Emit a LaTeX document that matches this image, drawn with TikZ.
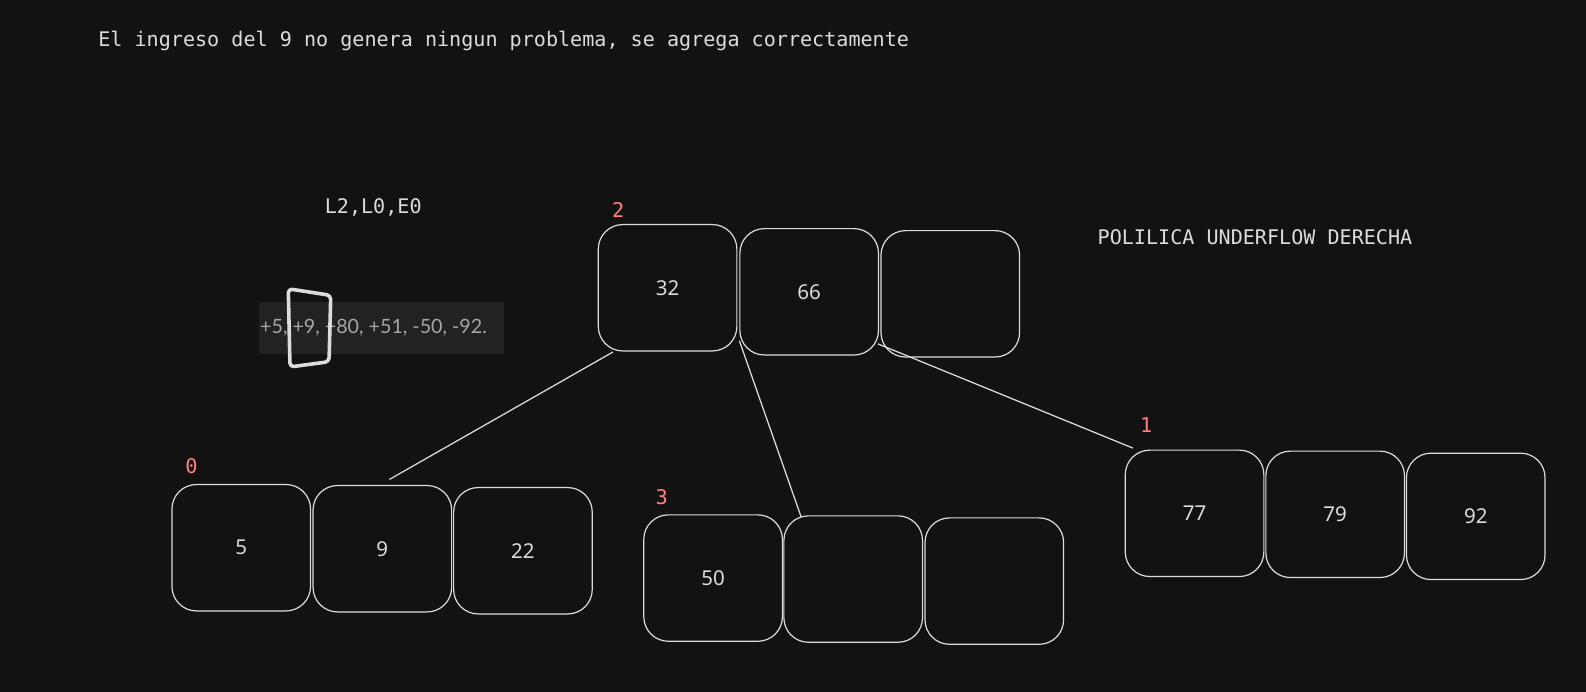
\documentclass[tikz,border=0pt]{standalone}
\usepackage{fontspec}
\setmainfont{Noto Sans}
\newfontfamily\monof{DejaVu Sans Mono}
\newfontfamily\imgf{Lato}
\definecolor{bg}{HTML}{121212}
\definecolor{ink}{HTML}{DCDCDC}
\definecolor{lab}{HTML}{FF7F7F}
\definecolor{imgbg}{HTML}{222222}
\definecolor{imgtx}{HTML}{A6A6A6}
\tikzset{
  keybox/.style={draw=ink, line width=1.2pt, rounded corners=24.5pt, minimum width=138.6pt, minimum height=126.4pt, inner sep=0pt, text=ink, font=\fontsize{20.5}{24}\selectfont},
  mono/.style={inner sep=0pt, text=ink, font=\monof\fontsize{20.1}{24}\selectfont},
  pagelab/.style={inner sep=0pt, text=lab, font=\monof\fontsize{20.3}{24}\selectfont},
  link/.style={draw=ink, line width=1.25pt},
}
\begin{document}
\begin{tikzpicture}[x=1.0115pt,y=-1.0115pt]
\fill[bg] (0,0) rectangle (1568,684);
\useasboundingbox (0,0) rectangle (1568,684);

% texts
\node[mono, anchor=base west] (title) at (97,46) {El ingreso del 9 no genera ningun problema, se agrega correctamente};
\node[mono, anchor=base] (ops) at (369,211) {L2,L0,E0};
\node[mono, anchor=base west] (pol) at (1085,242) {POLILICA UNDERFLOW DERECHA};

% pasted image
\fill[imgbg] (256,298.3) rectangle (498.6,350.3);
\coordinate (img) at (377,324);
\node[inner sep=0pt, anchor=west, text=imgtx, font=\imgf\fontsize{19.7}{22}\selectfont] (imgtxt) at (257,324) {+5, +9, +80, +51, -50, -92.};
\draw[draw=ink, line width=3.6pt, line join=round, rounded corners=4pt] (285,285.5) -- (327,292) -- (325.3,357.6) -- (286.7,362.8) -- cycle;

% page labels
\node[pagelab, anchor=base west] (l2) at (605,215) {2};
\node[pagelab, anchor=base west] (l0) at (183,468) {0};
\node[pagelab, anchor=base west] (l3) at (648,499) {3};
\node[pagelab, anchor=base west] (l1) at (1127,428) {1};

% root node (2)
\node[keybox] (r1) at (660,284.5) {32};
\node[keybox] (r2) at (800,288.5) {66};
\node[keybox] (r3) at (939.5,290.5) {};
% node 0
\node[keybox] (a1) at (238.5,541.5) {5};
\node[keybox] (a2) at (378,542.5) {9};
\node[keybox] (a3) at (517,544.5) {22};
% node 3
\node[keybox] (b1) at (705,571.5) {50};
\node[keybox] (b2) at (843.5,572.5) {};
\node[keybox] (b3) at (983,574.5) {};
% node 1
\node[keybox] (c1) at (1181,507.5) {77};
\node[keybox] (c2) at (1320,508.5) {79};
\node[keybox] (c3) at (1459,510.5) {92};

% connectors
\coordinate (p0) at (606,348);
\coordinate (q0) at (385,474);
\coordinate (p1) at (731,337);
\coordinate (q1) at (792,511);
\coordinate (p2) at (868,340);
\coordinate (q2) at (1120,443);
\draw[link] (p0) -- (q0);
\draw[link] (p1) -- (q1);
\draw[link] (p2) -- (q2);
\end{tikzpicture}
\end{document}
